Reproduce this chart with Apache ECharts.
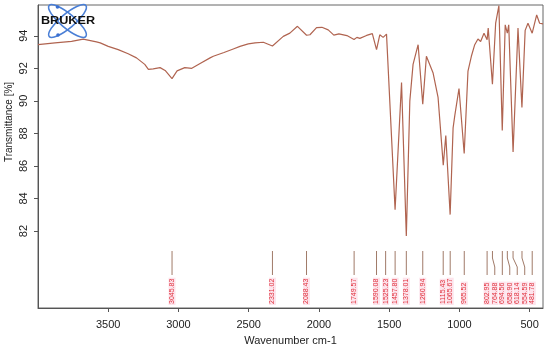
<!DOCTYPE html>
<html><head><meta charset="utf-8">
<script src="https://cdn.jsdelivr.net/npm/echarts@6/dist/echarts.min.js"></script>
<style>html,body{margin:0;padding:0;background:#fff}#c{width:550px;height:351px}</style>
</head><body><div id="c"></div>
<script>
// IR spectrum (wavenumber cm-1, transmittance %)
const wavenumbers = [4000,3879,3761,3678,3584,3557,3500,3429,3358,3299,3240,3214,3180,3131,3095,3046,3010,2955,2905,2846,2775,2752,2676,2610,2562,2503,2455,2396,2331,2254,2207,2153,2088,2064,2017,1979,1934,1894,1858,1801,1750,1730,1709,1661,1620,1590,1567,1543,1519,1458,1412,1378,1353,1330,1294,1261,1235,1223,1188,1152,1115,1097,1066,1045,1033,1003,966,939,915,891,868,849,825,803,795,765,742,730,719,695,674,659,649,618,583,555,532,512,482,450,429,405];
const transmittance = [93.45,93.56,93.65,93.79,93.62,93.56,93.35,93.15,92.89,92.64,92.24,91.93,91.97,92.04,91.87,91.37,91.84,92.04,92.00,92.30,92.64,92.74,92.97,93.19,93.35,93.50,93.56,93.60,93.37,93.96,94.16,94.58,94.03,94.06,94.50,94.52,94.36,94.04,94.12,94.01,93.77,93.90,93.84,94.02,94.13,93.15,94.06,93.90,94.10,83.31,91.12,81.69,90.00,92.24,93.45,89.80,92.74,92.74,91.73,90.21,86.05,87.87,83.01,88.34,89.09,90.76,86.76,91.83,92.74,93.45,93.80,93.65,94.16,93.76,94.47,91.02,94.77,94.77,95.85,88.18,94.67,94.16,94.67,86.86,94.47,89.60,94.33,94.77,94.16,95.28,94.77,94.73];

const peakWavenumbers = [3045.83,2331.02,2088.43,1749.57,1590.08,1525.23,1457.80,1378.01,1260.94,1115.43,1065.67,965.52,802.95,764.88,694.56,658.90,618.14,554.59,481.78];
const peakLabels = ['3045.83','2331.02','2088.43','1749.57','1590.08','1525.23','1457.80','1378.01','1260.94','1115.43','1065.67','965.52','802.95','764.88','694.56','658.90','618.14','554.59','481.78'];
const peakLabelAt = [3045.83,2331.02,2088.43,1749.57,1590.08,1525.23,1457.80,1378.01,1260.94,1115.43,1065.67,965.52,802.95,748.3,694.56,641.7,588.4,535.1,481.78];

const xTicks = [3500,3000,2500,2000,1500,1000,500];
const yTicks = [82,84,86,88,90,92,94];
const xRange = [405, 4000];
const yRange = [77.27, 95.89];

const FONT = 'Liberation Sans, Arial, sans-serif';
const chart = echarts.init(document.getElementById('c'), null, {renderer:'canvas'});

chart.setOption({
  animation:false,
  backgroundColor:'#fff',
  grid:{left:38,right:7,top:5,bottom:40,show:true,borderColor:'#666',borderWidth:1,backgroundColor:'transparent'},
  xAxis:{
    type:'value', inverse:true, min:xRange[0], max:xRange[1],
    name:'Wavenumber cm-1', nameLocation:'middle', nameGap:27,
    nameTextStyle:{fontFamily:FONT,fontSize:11,color:'#222'},
    axisLine:{show:true,lineStyle:{color:'#555',width:1}},
    axisTick:{show:true,length:4,customValues:xTicks,lineStyle:{color:'#555'}},
    axisLabel:{customValues:xTicks,formatter:v=>String(v),fontFamily:FONT,fontSize:11,color:'#222',margin:11},
    splitLine:{show:false}
  },
  yAxis:{
    type:'value', min:yRange[0], max:yRange[1],
    axisLine:{show:true,lineStyle:{color:'#555',width:1}},
    axisTick:{show:true,length:4,customValues:yTicks,lineStyle:{color:'#555'}},
    axisLabel:{customValues:yTicks,formatter:v=>String(v),rotate:90,fontFamily:FONT,fontSize:11,color:'#222',margin:9},
    splitLine:{show:false}
  },
  graphic:[
    {type:'text',x:9,y:122,rotation:Math.PI/2,style:{text:'Transmittance [%]',fontFamily:FONT,fontSize:10,fill:'#222',align:'center',verticalAlign:'middle'}},
    {type:'ellipse',shape:{cx:0,cy:0,rx:24,ry:7},x:67.5,y:21,rotation:0.7,style:{fill:'none',stroke:'#4a7fd6',lineWidth:1.6},z:10},
    {type:'ellipse',shape:{cx:0,cy:0,rx:24,ry:7},x:67.5,y:21,rotation:-0.7,style:{fill:'none',stroke:'#4a7fd6',lineWidth:1.6},z:10},
    {type:'circle',shape:{cx:57.5,cy:7,r:1.8},style:{fill:'#3a6fd0'},z:10},
    {type:'circle',shape:{cx:58,cy:35,r:1.8},style:{fill:'#3a6fd0'},z:10},
    {type:'text',x:68,y:21,scaleX:1.15,style:{text:'BRUKER',fontFamily:FONT,fontWeight:'bold',fontSize:11,fill:'#111',align:'center',verticalAlign:'middle'},z:11}
  ],
  series:[
    {
      type:'line', data:wavenumbers.map((w,i)=>[w,transmittance[i]]),
      showSymbol:false, symbol:'none', lineStyle:{color:'#b06450',width:1.2}, z:2, silent:true
    },
    {
      type:'custom', silent:true, z:3,
      data:peakWavenumbers.map((w,i)=>[w,peakLabelAt[i]]),
      renderItem:function(params, api){
        const cs = params.coordSys;
        const b = cs.y + cs.height;
        const px = api.coord([api.value(0), 90])[0];
        const lx = api.coord([api.value(1), 90])[0];
        const i = params.dataIndex;
        return {type:'group', children:[
          {type:'polyline', shape:{points:[[px,b-57],[px,b-50],[lx,b-41],[lx,b-33]]}, style:{stroke:'#a07a68',fill:'none',lineWidth:1}},
          {type:'text', x:lx, y:b-3, rotation:Math.PI/2,
           style:{text:peakLabels[i], fontFamily:FONT, fontSize:7, fill:'#e0303c', align:'left', verticalAlign:'middle', backgroundColor:'#fde4ec', padding:[0,1]}}
        ]};
      }
    }
  ]
});
</script></body></html>
